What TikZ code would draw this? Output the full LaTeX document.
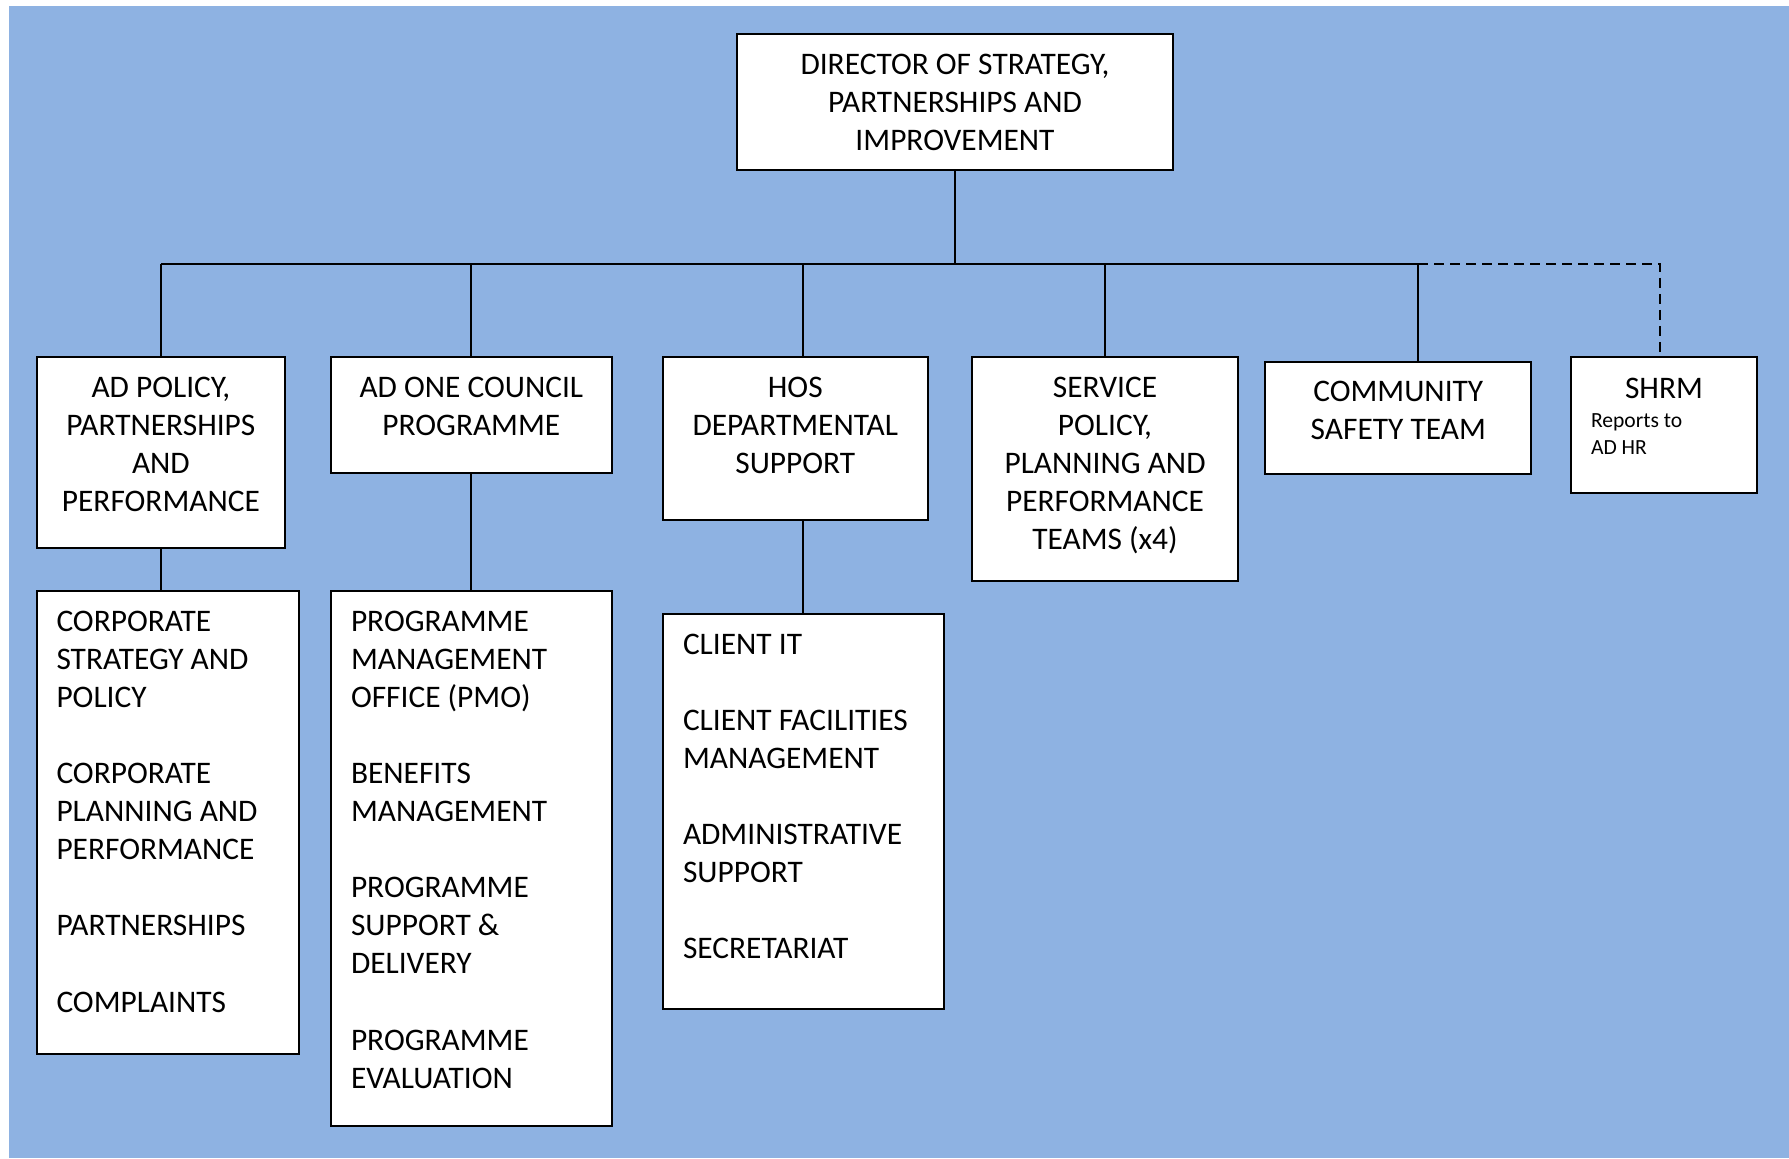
\documentclass[tikz,border=0pt]{standalone}
\usepackage{fontspec}
\setmainfont{Carlito}
\definecolor{bg}{HTML}{8EB2E2}
\newcommand{\ctext}[3]{\parbox[t][#2][t]{#1}{\centering\fontsize{15.7}{19.05}\selectfont\rule{0pt}{20pt}#3\par}}
\newcommand{\ltext}[3]{\parbox[t][#2][t]{#1}{\raggedright\leftskip=10pt\fontsize{15.7}{19.05}\selectfont\rule{0pt}{20pt}#3\par}}
\newcommand{\gap}{\\[19.05pt]}
\tikzset{
  orgbox/.style={draw=black, line width=1pt, fill=white, inner sep=0pt, outer sep=0pt, anchor=north west},
  conn/.style={line width=1pt},
}
\begin{document}
\begin{tikzpicture}[x=0.5pt,y=-0.5pt]
\useasboundingbox (0,0) rectangle (1789,1158);
\fill[bg] (9,6) rectangle (1789,1158);

\node[orgbox] (D) at (737,34) {\ctext{218pt}{68pt}{DIRECTOR OF STRATEGY,\\PARTNERSHIPS AND\\IMPROVEMENT}};

\node[orgbox] (P1) at (36.5,357) {\ctext{124.4pt}{95.3pt}{AD POLICY,\\PARTNERSHIPS\\AND\\PERFORMANCE}};
\node[orgbox] (P2) at (331,357) {\ctext{140.3pt}{58.2pt}{AD ONE COUNCIL\\PROGRAMME}};
\node[orgbox] (P3) at (663,357) {\ctext{132.3pt}{81.6pt}{HOS\\DEPARTMENTAL\\SUPPORT}};
\node[orgbox] (P4) at (972,357) {\ctext{133pt}{111.8pt}{SERVICE\\POLICY,\\PLANNING AND\\PERFORMANCE\\TEAMS (x4)}};
\node[orgbox] (P5) at (1265.4,361.7) {\ctext{132.9pt}{55.9pt}{COMMUNITY\\SAFETY TEAM}};
\node[orgbox] (P6) at (1571,357) {\parbox[t][68.2pt][t]{93pt}{\fontsize{15.7}{19.05}\selectfont\centering\rule{0pt}{20.5pt}SHRM\par\fontsize{10.8}{13.7}\selectfont\raggedright\leftskip=10pt\vspace{1pt}Reports to\\AD HR\par}};

\node[orgbox] (A) at (36.5,591) {\ltext{131.2pt}{231.6pt}{CORPORATE\\STRATEGY AND\\POLICY\gap CORPORATE\\PLANNING AND\\PERFORMANCE\gap PARTNERSHIPS\gap COMPLAINTS}};
\node[orgbox] (B) at (331,591) {\ltext{140.3pt}{267.6pt}{PROGRAMME\\MANAGEMENT\\OFFICE (PMO)\gap BENEFITS\\MANAGEMENT\gap PROGRAMME\\SUPPORT \&\\DELIVERY\gap PROGRAMME\\EVALUATION}};
\node[orgbox] (C) at (663,614) {\ltext{140.3pt}{197.3pt}{CLIENT IT\gap CLIENT FACILITIES\\MANAGEMENT\gap ADMINISTRATIVE\\SUPPORT\gap SECRETARIAT}};

\coordinate (busL) at (160.9,263.6);
\coordinate (busR) at (1418.3,263.6);

\draw[conn] (busL) -- (busR);
\draw[conn] (D.south) -- (D.south |- busL);
\draw[conn] (busL) -- (P1.north);
\draw[conn] (P2.north) -- (P2.north |- busL);
\draw[conn] ([xshift=4pt]P3.north) -- ([xshift=4pt]P3.north |- busL);
\draw[conn] (P4.north) -- (P4.north |- busL);
\draw[conn] (busR) -- (busR |- P5.north);
\draw[conn, dash pattern=on 5pt off 3pt] (busR) -| ([xshift=-2pt]P6.north);

\draw[conn] (P1.south) -- (P1.south |- A.north);
\draw[conn] (P2.south) -- (B.north);
\draw[conn] ([xshift=4pt]P3.south) -- ([xshift=4pt]P3.south |- C.north);
\end{tikzpicture}
\end{document}
